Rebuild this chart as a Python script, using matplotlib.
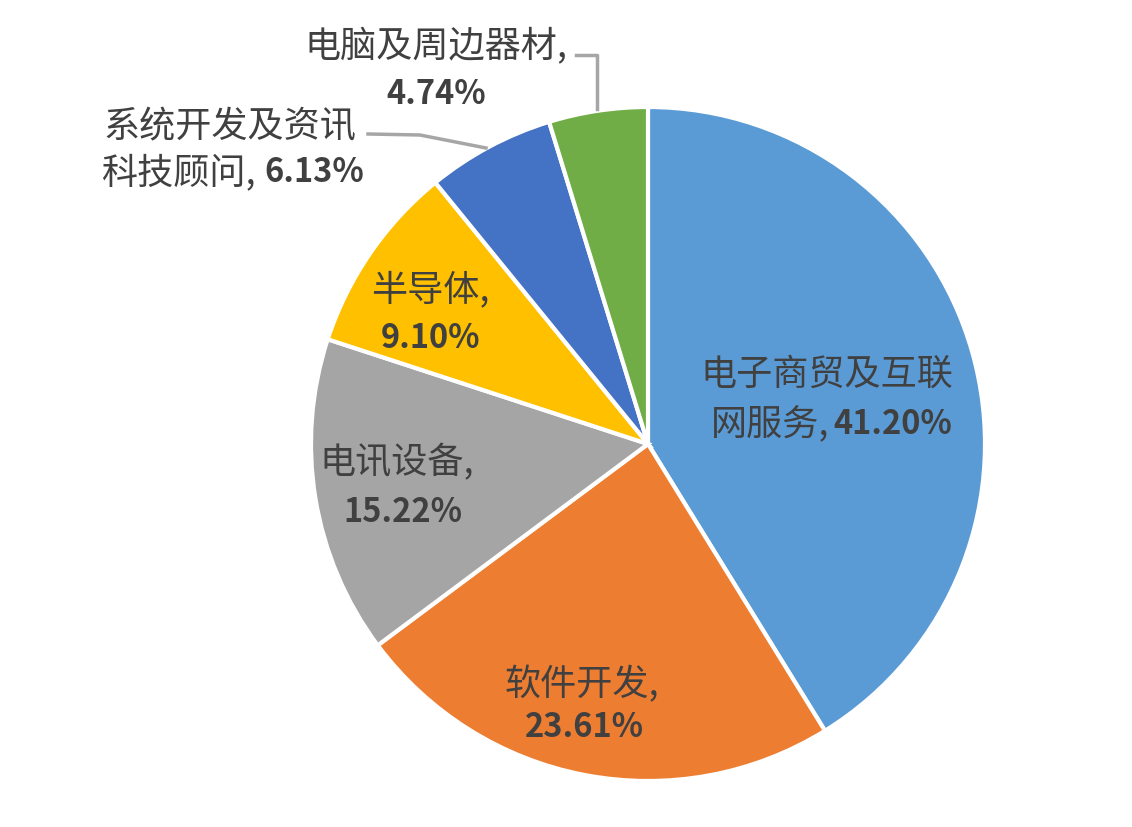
import matplotlib.pyplot as plt

plt.rcParams['font.family'] = ['Noto Sans CJK SC', 'DejaVu Sans']

# 行业分布数据
names = ["电子商贸及互联网服务", "软件开发", "电讯设备", "半导体", "系统开发及资讯科技顾问", "电脑及周边器材"]
values = [41.20, 23.61, 15.22, 9.10, 6.13, 4.74]
colors = ["#5B9BD5", "#ED7D31", "#A5A5A5", "#FFC000", "#4472C4", "#70AD47"]

W, H = 1132, 828
fig = plt.figure(figsize=(W / 100, H / 100), dpi=100)
ax = fig.add_axes([0, 0, 1, 1])

ax.pie(values, colors=colors, startangle=90, counterclock=False,
       center=(648, H - 445), radius=337, frame=True,
       wedgeprops=dict(edgecolor="white", linewidth=3))
ax.set_xlim(0, W)
ax.set_ylim(0, H)
ax.axis("off")

tc = "#404040"


def txt(x, y, s, ha="center", bold=False):
    ax.text(x, H - y, s, ha=ha, va="center", fontsize=23.5 if bold else 26,
            color=tc, fontweight="bold" if bold else "normal")


pct = ["%.2f%%" % v for v in values]

# 电子商贸及互联网服务
txt(827, 375, "电子商贸及互联")
txt(829, 425, "网服务,", ha="right")
txt(833, 425, pct[0], ha="left", bold=True)
# 软件开发
txt(582, 685, names[1] + ",")
txt(584, 728, pct[1], bold=True)
# 电讯设备
txt(397, 463, names[2] + ",")
txt(403, 513, pct[2], bold=True)
# 半导体
txt(430, 290, names[3] + ",")
txt(430, 338, pct[3], bold=True)
# 系统开发及资讯科技顾问
txt(230, 127, "系统开发及资讯")
txt(256, 173, "科技顾问,", ha="right")
txt(264, 173, pct[4], ha="left", bold=True)
# 电脑及周边器材
txt(436, 47, names[5] + ",")
txt(436, 95, pct[5], bold=True)

# 引导线
ax.plot([576, 597, 597], [H - 56, H - 56, H - 110], color="#A6A6A6", lw=2.5)
ax.plot([368, 420, 486], [H - 135, H - 136, H - 149], color="#A6A6A6", lw=2.5)

plt.savefig("out.png", dpi=100)
